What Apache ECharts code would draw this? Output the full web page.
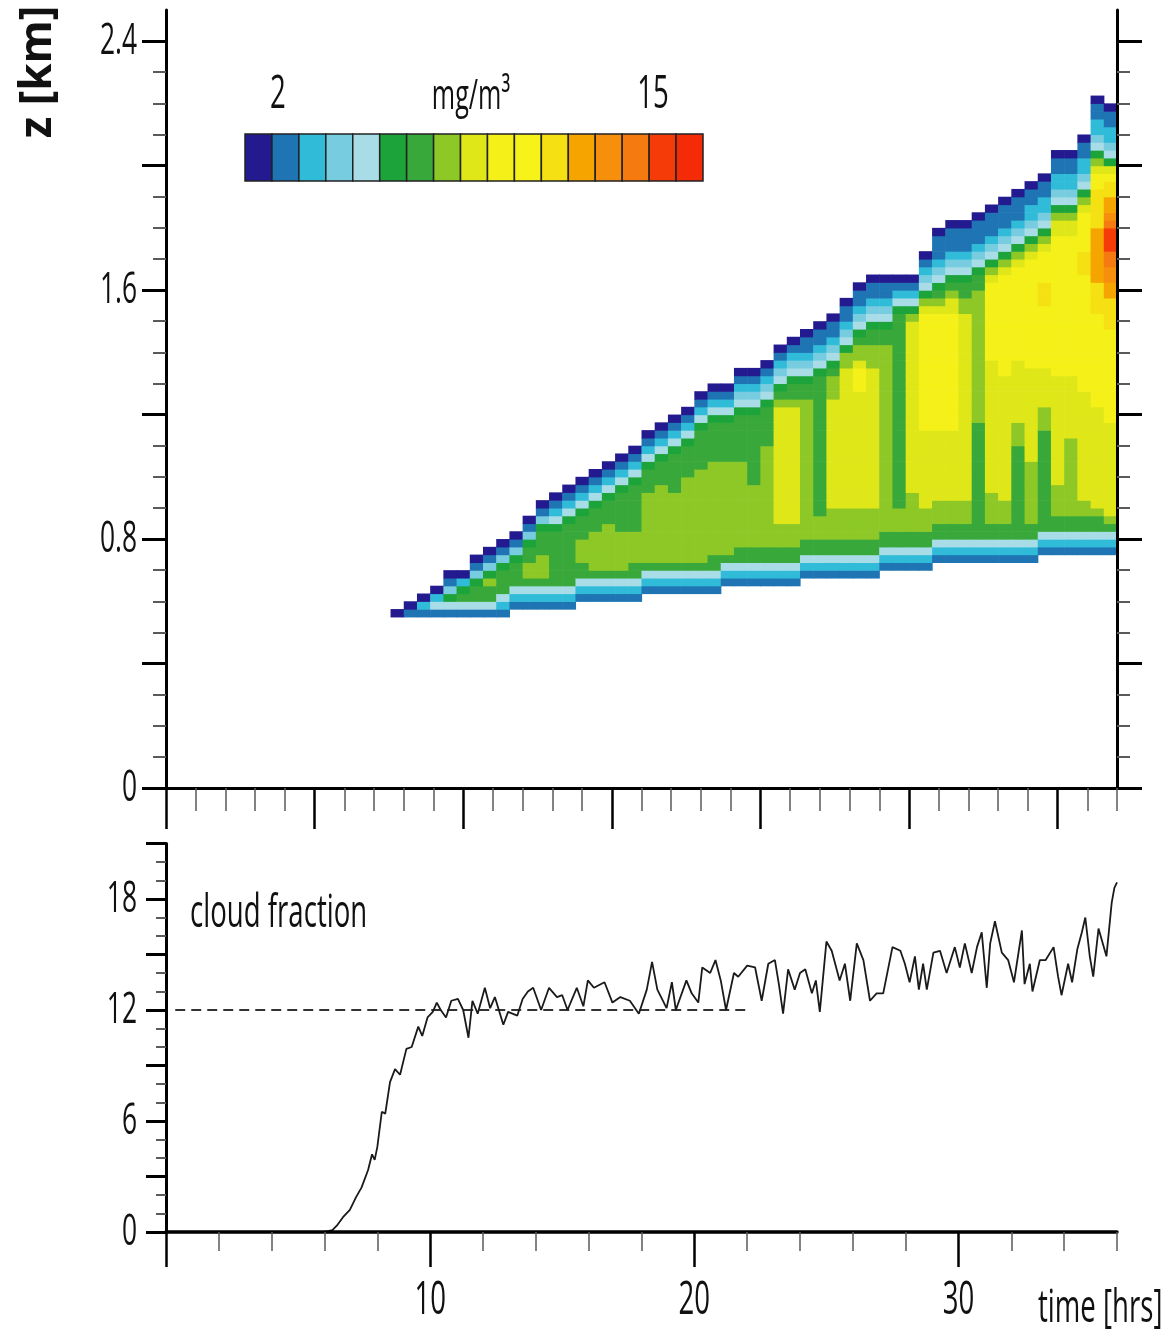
<!DOCTYPE html>
<html>
<head>
<meta charset="utf-8">
<script src="https://cdn.jsdelivr.net/npm/echarts@6/dist/echarts.min.js"></script>
<style>
html,body{margin:0;padding:0;background:#fff;}
#chart{width:1165px;height:1332px;}
</style>
</head>
<body>
<div id="chart"></div>
<script>
// ---------------- DATA ----------------
// Colour levels of the liquid-water legend (mg/m3), 17 classes
const levelColors = ['#221a8e','#1f74b4','#30bcd8','#77cce0','#a8dde8','#1ca33a','#38a83a','#8dc827',
  '#dfe718','#f4f018','#f6f21a','#f4e013','#f5a400','#f58f0c','#f57a10','#f53c08','#f52a06'];
const legendTickText = ['2', '15'];
const legendUnit = 'mg/m\u00b3';

// Time bins (start of each 0.5 h column) of the contour field
const colStartTime = [8.5,9,9.5,10,10.5,11,11.5,12,12.5,13,13.5,14,14.5,15,15.5,16,16.5,17,17.5,18,
  18.5,19,19.5,20,20.5,21,21.5,22,22.5,23,23.5,24,24.5,25,25.5,26,26.5,27,27.5,28,28.5,29,29.5,30,
  30.5,31,31.5,32,32.5,33,33.5,34,34.5,35,35.5];
const colWidth = 0.5;     // h
const zRowBase = 0.5;     // km
const zRowStep = 0.025;   // km
// Each column: "first row | levels from bottom upward" (NxM = level N repeated M times)
const lwcColumns = [
"2|0",
"2|1 0",
"2|1 2 0",
"2|1 4 2 0",
"2|1 4 5 3 1 0",
"2|1 4 6 5 2 0",
"2|1 4 6 6 5 3 1 0",
"2|1 4 6 6 7 5 3 1 0",
"2|1 2 4 6 6 6 5 3 1 0",
"3|1 2 4 6 6 6 5 3 1 0",
"3|1 2 4 6 7 7 6 6 5 3 1 0",
"3|1 2 4 6 7 7 7 6 6 6 5 3 1 0",
"3|1 2 4 6x7 5 4 2 1 0",
"3|1 2 4 6x8 5 4 2 1 0",
"4|1 2 4 6 6 7 7 7 6 6 6 5 4 2 1 0",
"4|1 2 4 6 7x5 6x3 5 4 2 1 0",
"4|1 2 4 6 7x6 6x3 5 4 2 1 0",
"4|1 2 4 6 7x5 6x5 5 4 2 1 0",
"4|1 2 4 6 6 7x4 6x6 5 4 2 1 0",
"5|1 2 4 6 7x9 6x3 5 4 2 1 0",
"5|1 2 4 6 7x10 6x3 5 4 2 1 0",
"5|1 2 4 6 7x9 6x5 5 4 2 1 0",
"5|1 2 4 6 7x11 6x4 5 4 2 1 0",
"5|1 2 4 6 7x12 6x5 5 4 2 1 0",
"5|1 2 4 6 6 7x12 6x5 5 4 2 1 0",
"6|1 2 4 6 7x12 6x5 5 4 2 1 0",
"6|1 2 4 6 6 7x11 6x6 5 4 3 2 1 0",
"6|1 2 4 6 6 7x8 6x9 5 4 3 2 1 0",
"6|1 2 4 6 6 7x13 6x5 5 4 3 2 1 0",
"6|1 2 4 6 6 7x3 8x15 7 6 5 4 3 2 1 0",
"6|1 2 4 6 6 7x3 8x15 7 6 6 5 4 3 2 1 0",
"7|1 2 4 6 6 7x18 6 6 5 4 3 2 1 1 0",
"7|1 2 4 6 6 7x3 6x18 5 4 3 2 1 1 0",
"7|1 2 4 6 6 7x4 8x14 7x3 6 5 4 3 2 1 1 0",
"7|1 2 4 6 6 7x4 8x18 7 7 5 4 3 2 1 1 0",
"7|1 2 4 6 6 7x4 8x15 9 9 9 8 7 7 6 5 4 3 2 1 1 0",
"7|1 2 4 6 6 7x4 8x18 7x3 6 6 5 4 3 2 1 1 0",
"8|1 2 4 6 6 7x24 6 6 5 4 3 2 1 1 0",
"8|1 2 4 6 6 7x3 6x25 5 4 2 1 0",
"8|1 2 4 6 6 7x5 8x22 7 5 4 2 1 0",
"8|1 2 4 6 6 7x3 8x10 9x15 8 7 5 4 3 2 1 0",
"9|1 2 4 6 6 7x3 8x9 9x15 8 7 6 5 4 3 2 1 1 1 0",
"9|1 2 4 6 6 7x3 8x9 9x15 8 8 7 6 5 4 3 2 1 1 1 0",
"9|1 2 4 6 6 7x3 8x24 7 7 6 6 5 4 3 2 1 1 1 0",
"9|1 2 4 6x15 7x17 6 6 5 4 3 2 1 1 1 0",
"9|1 2 4 6 6 7x4 8x17 9x10 8 7 5 4 3 2 1 1 1 0",
"9|1 2 4 6 6 7x3 8x16 9x13 8 7 5 4 3 2 1 1 1 0",
"9|1 2 4 6x12 7x3 8x8 9x12 8 7 5 4 3 2 1 1 1 0",
"9|1 2 4 6 6 7x8 8x12 9x14 8 7 5 4 3 2 2 1 1 0",
"10|1 2 4 6x13 7x3 8x5 9x8 b b b 9x4 8 7 5 4 3 2 2 1 1 0",
"10|1 2 4 6 6 7x4 8x14 9x18 8 8 7 5 4 3 2 2 1 1 0",
"10|1 2 4 6 6 7x10 8x8 9x18 8 8 7 5 4 3 2 2 1 1 0",
"10|1 2 4 6 6 7x2 8x14 9x15 b b b 9x5 8 7 5 4 3 2 2 1 1 0",
"10|1 2 4 6 6 7 8x13 9x12 b b b b c c c c c c c b b b b b 9 9 8 7 5 4 3 2 2 1 1 0",
"10|1 2 4 6 7 8x12 9x12 b b b b c c d d e e f f f e d c c b b 9 8 5 4 3 2 2 1 1 0"
];

// Cloud fraction time series
const cfTime = [6.0,6.3,6.5,6.7,6.96,7.2,7.4,7.65,7.8,7.9,8.0,8.17,8.3,8.48,8.67,8.86,9.1,9.3,9.55,9.7,
  9.9,10.1,10.25,10.4,10.6,10.8,11.05,11.25,11.45,11.6,11.8,12.07,12.27,12.45,12.77,12.95,13.3,13.5,13.7,13.9,
  14.2,14.5,14.8,15.0,15.2,15.55,15.8,15.97,16.2,16.6,16.9,17.2,17.56,17.9,18.2,18.4,18.6,18.95,19.15,19.3,
  19.7,19.9,20.15,20.3,20.6,20.8,21.0,21.2,21.5,21.66,22.0,22.3,22.55,22.8,23.05,23.2,23.36,23.55,23.8,24.0,
  24.2,24.45,24.6,24.75,25.0,25.2,25.5,25.7,25.9,26.15,26.4,26.65,26.9,27.15,27.5,27.8,27.97,28.15,28.35,28.5,
  28.66,28.8,29.05,29.3,29.55,29.86,30.05,30.24,30.5,30.7,30.88,31.07,31.2,31.38,31.64,31.88,32.1,32.4,32.5,32.7,
  32.8,33.08,33.3,33.6,33.77,33.9,34.15,34.3,34.5,34.67,34.8,34.97,35.1,35.3,35.4,35.6,35.8,35.9,36.0];
const cfValue = [0,0.1,0.4,0.8,1.2,1.9,2.4,3.35,4.2,3.9,4.6,6.5,6.4,8.1,8.8,8.5,9.9,10.0,11.1,10.6,
  11.6,11.9,12.4,12.0,11.6,12.5,12.6,12.0,10.5,12.5,11.8,13.2,12.1,12.7,11.2,11.9,11.7,12.6,13.0,13.2,
  12.0,13.2,12.7,12.8,12.0,13.2,12.2,13.6,13.2,13.5,12.4,12.7,12.5,11.8,13.1,14.6,13.1,12.1,13.5,12.0,
  13.6,12.9,12.4,14.3,14.0,14.7,13.6,12.0,14.0,13.8,14.4,14.3,12.5,14.5,14.7,13.4,11.8,14.2,13.1,14.0,
  14.2,12.9,13.6,11.9,15.7,15.2,13.6,14.5,12.5,15.6,14.7,12.5,12.9,12.9,15.4,15.2,14.5,13.5,14.9,13.1,
  14.5,13.1,15.1,15.2,14.0,15.4,14.3,15.6,14.0,15.4,16.2,13.2,15.6,16.8,15.1,14.7,13.5,16.3,13.4,14.5,
  13.0,14.7,14.7,15.4,13.8,12.8,14.5,13.5,15.3,16.2,17.0,14.9,13.8,16.4,15.9,14.9,17.8,18.6,18.9];
const refTime = [0.35, 22];
const refValue = [12, 12];

// Axis ticks and labels
const zMajorTicks = [0,0.4,0.8,1.2,1.6,2.0,2.4];
const zMinorTicks = [0.1,0.2,0.3,0.5,0.6,0.7,0.9,1.0,1.1,1.3,1.4,1.5,1.7,1.8,1.9,2.1,2.2,2.3];
const zLabelValues = [0,0.8,1.6,2.4];
const zLabelText = ['0','0.8','1.6','2.4'];
const topTimeMajor = [0,5.625,11.25,16.875,22.5,28.125,33.75];
const topTimeMinor = [];
for (let k = 1; k <= 32; k++) { if (k % 5 !== 0) topTimeMinor.push(k * 1.125); }
const timeMajorTicks = [0,10,20,30];
const timeMinorTicks = [2,4,6,8,12,14,16,18,22,24,26,28,32,34,36];
const timeLabelValues = [10,20,30];
const timeLabelText = ['10','20','30'];
const cfMajorTicks = [0,3,6,9,12,15,18,21];
const cfMinorTicks = [1,2,4,5,7,8,10,11,13,14,16,17,19,20];
const cfLabelValues = [0,6,12,18];
const cfLabelText = ['0','6','12','18'];

// ---------------- BUILD ----------------
const heatData = [];
lwcColumns.forEach((str, j) => {
  const parts = str.split('|');
  let k = parseInt(parts[0], 10);
  parts[1].trim().split(/\s+/).forEach(tok => {
    const p = tok.split('x');
    const level = parseInt(p[0], 36);
    const n = p.length > 1 ? parseInt(p[1], 10) : 1;
    for (let i = 0; i < n; i++) {
      const t0 = colStartTime[j];
      const z0 = zRowBase + k * zRowStep;
      heatData.push([t0, z0, level, t0 + colWidth, z0 + zRowStep]);
      k++;
    }
  });
});
const cfData = cfTime.map((t, i) => [t, cfValue[i]]);
const refData = refTime.map((t, i) => [t, refValue[i]]);

const FONT = "'Open Sans','Noto Sans','DejaVu Sans',sans-serif";
const BLACK = '#000';
const MINOR = '#5a5a5a';

function valAxis(extra) {
  return Object.assign({
    type: 'value', z: 10,
    axisLabel: { show: false },
    splitLine: { show: false },
    axisLine: { show: false, onZero: false },
  }, extra);
}

const chart = echarts.init(document.getElementById('chart'), null, { renderer: 'canvas' });

const option = {
  backgroundColor: '#fff',
  animation: false,
  grid: [
    { left: 166, right: 48, top: 10, bottom: 544 },
    { left: 166, right: 48, top: 843.5, bottom: 100 }
  ],
  xAxis: [
    valAxis({ gridIndex: 0, min: 0, max: 36, position: 'bottom',
      axisLine: { show: true, onZero: false, lineStyle: { color: BLACK, width: 3 } },
      axisTick: { show: true, length: 41, customValues: topTimeMajor, lineStyle: { color: BLACK, width: 2.5 } } }),
    valAxis({ gridIndex: 0, min: 0, max: 36, position: 'bottom',
      axisTick: { show: true, length: 23, customValues: topTimeMinor, lineStyle: { color: MINOR, width: 1.5 } } }),
    valAxis({ gridIndex: 1, min: 0, max: 36, position: 'bottom',
      axisLine: { show: true, onZero: false, lineStyle: { color: BLACK, width: 3.5 } },
      axisTick: { show: true, length: 35, customValues: timeMajorTicks, lineStyle: { color: BLACK, width: 2.5 } } }),
    valAxis({ gridIndex: 1, min: 0, max: 36, position: 'bottom',
      axisTick: { show: true, length: 19, customValues: timeMinorTicks, lineStyle: { color: MINOR, width: 1.5 } } })
  ],
  yAxis: [
    valAxis({ gridIndex: 0, min: 0, max: 2.5, position: 'left',
      axisLine: { show: true, onZero: false, lineStyle: { color: BLACK, width: 3 } },
      axisTick: { show: true, length: 24, customValues: zMajorTicks, lineStyle: { color: BLACK, width: 3 } } }),
    valAxis({ gridIndex: 0, min: 0, max: 2.5, position: 'left',
      axisTick: { show: true, length: 13, customValues: zMinorTicks, lineStyle: { color: MINOR, width: 2 } } }),
    valAxis({ gridIndex: 0, min: 0, max: 2.5, position: 'right',
      axisLine: { show: true, onZero: false, lineStyle: { color: BLACK, width: 3 } },
      axisTick: { show: true, length: 25, customValues: zMajorTicks, lineStyle: { color: BLACK, width: 3 } } }),
    valAxis({ gridIndex: 0, min: 0, max: 2.5, position: 'right',
      axisTick: { show: true, length: 13, customValues: zMinorTicks, lineStyle: { color: MINOR, width: 2 } } }),
    valAxis({ gridIndex: 1, min: 0, max: 21, position: 'left',
      axisLine: { show: true, onZero: false, lineStyle: { color: BLACK, width: 3 } },
      axisTick: { show: true, length: 20, customValues: cfMajorTicks, lineStyle: { color: BLACK, width: 3 } } }),
    valAxis({ gridIndex: 1, min: 0, max: 21, position: 'left',
      axisTick: { show: true, length: 10, customValues: cfMinorTicks, lineStyle: { color: MINOR, width: 2 } } })
  ],
  series: [
    {
      type: 'custom', name: 'liquid water', xAxisIndex: 0, yAxisIndex: 0, silent: true,
      progressive: 0, z: 2, clip: false,
      data: heatData,
      renderItem: function (params, api) {
        const p0 = api.coord([api.value(0), api.value(1)]);
        const p1 = api.coord([api.value(3), api.value(4)]);
        return {
          type: 'rect',
          shape: { x: p0[0], y: p1[1], width: p1[0] - p0[0] + 0.6, height: p0[1] - p1[1] + 0.6 },
          style: { fill: levelColors[api.value(2)] }
        };
      }
    },
    {
      type: 'line', name: 'reference', xAxisIndex: 2, yAxisIndex: 4, silent: true,
      data: refData, symbol: 'none',
      lineStyle: { color: '#333', width: 2.2, type: [10, 6] }
    },
    {
      type: 'line', name: 'cloud fraction', xAxisIndex: 2, yAxisIndex: 4, silent: true,
      data: cfData, symbol: 'none',
      lineStyle: { color: '#1a1a1a', width: 1.8 }
    }
  ]
};
chart.setOption(option);

// ---------------- TEXT & LEGEND ----------------
function txt(text, x, y, o) {
  o = o || {};
  return {
    type: 'text', x: x, y: y, z: 100,
    scaleX: o.sx !== undefined ? o.sx : 0.6, scaleY: o.sy !== undefined ? o.sy : 1,
    rotation: o.rot || 0,
    style: {
      text: text, fill: '#111', fontFamily: FONT, fontSize: o.size || 44,
      fontWeight: o.weight || 'normal',
      align: o.align || 'center', verticalAlign: o.va || 'middle',
      textAlign: o.align || 'center', textVerticalAlign: o.va || 'middle'
    }
  };
}
const els = [];
// colour bar
const barX = 245, barY = 134, barW = 458, barH = 47;
const cellW = barW / levelColors.length;
levelColors.forEach((c, i) => {
  els.push({ type: 'rect', z: 100, shape: { x: barX + i * cellW, y: barY, width: cellW, height: barH },
    style: { fill: c, stroke: '#222', lineWidth: 1.5 } });
});
els.push(txt(legendTickText[0], 278, 95, { size: 46 }));
els.push(txt(legendUnit, 471, 97, { size: 42 }));
els.push(txt(legendTickText[1], 653, 95, { size: 46 }));
// axis titles
els.push(txt('z [km]', 38, 72, { size: 44, weight: 'bold', sx: 1, rot: Math.PI / 2 }));
els.push(txt('cloud fraction', 190, 914, { size: 46, align: 'left' }));
els.push(txt('time [hrs]', 1038, 1309, { size: 46, align: 'left' }));
// tick labels positioned through the axes
zLabelValues.forEach((v, i) => {
  const y = chart.convertToPixel({ yAxisIndex: 0 }, v);
  els.push(txt(zLabelText[i], 137, y, { size: 44, align: 'right' }));
});
cfLabelValues.forEach((v, i) => {
  const y = chart.convertToPixel({ yAxisIndex: 4 }, v);
  els.push(txt(cfLabelText[i], 137, y, { size: 44, align: 'right' }));
});
timeLabelValues.forEach((v, i) => {
  const x = chart.convertToPixel({ xAxisIndex: 2 }, v);
  els.push(txt(timeLabelText[i], x, 1301, { size: 46 }));
});
chart.setOption({ graphic: { elements: els } });
</script>
</body>
</html>
